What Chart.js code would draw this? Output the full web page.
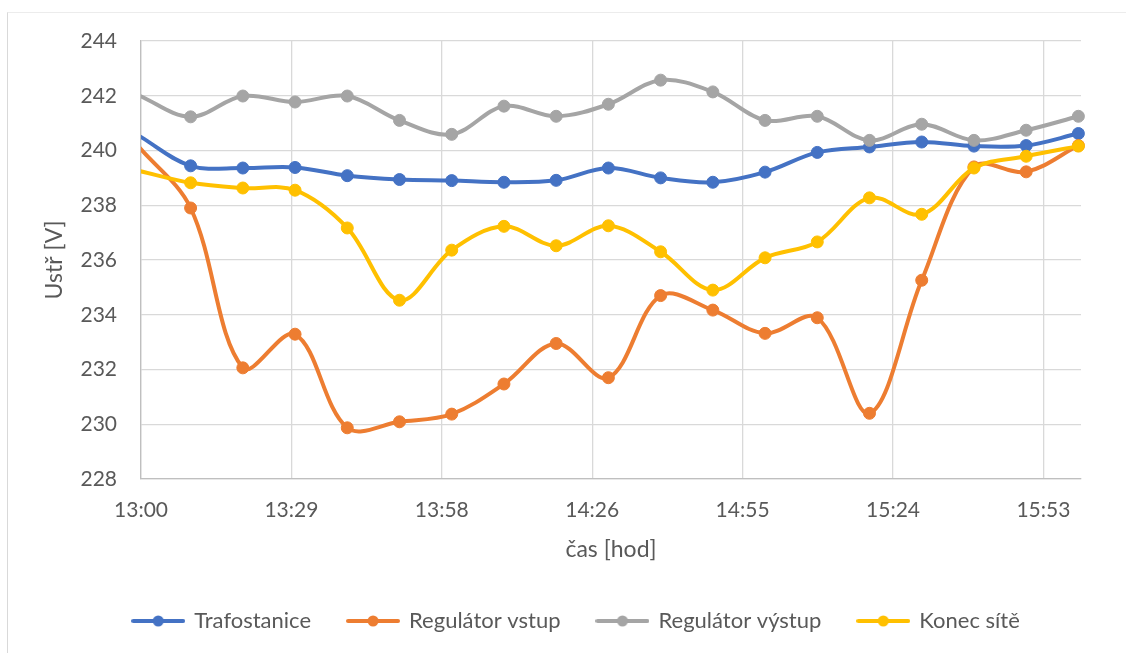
<!DOCTYPE html>
<html lang="cs">
<head>
<meta charset="utf-8">
<title>Napětí v síti</title>
<script src="https://cdn.jsdelivr.net/npm/chart.js@4/dist/chart.umd.min.js"></script>
<style>
  html, body { margin: 0; padding: 0; background: #ffffff; }
  #wrap { position: relative; width: 1126px; height: 653px; overflow: hidden; }
  #frame { position: absolute; left: 7px; top: 12px; width: 1200px; height: 700px;
           border-left: 1px solid #d9d9d9; border-top: 1px solid #ececec; }
  canvas { position: absolute; left: 0; top: 0; }
</style>
</head>
<body>
<div id="wrap">
  <div id="frame"></div>
  <canvas id="chart" width="1126" height="653"></canvas>
</div>
<script>
// measurement times (hh:mm:ss)
const times = ["12:59:30", "13:09:30", "13:19:30", "13:29:30", "13:39:30", "13:49:30", "13:59:30",
               "14:09:30", "14:19:30", "14:29:30", "14:39:30", "14:49:30", "14:59:30", "15:09:30",
               "15:19:30", "15:29:30", "15:39:30", "15:49:30", "15:59:30"];

// voltages [V]
const trafostanice = [240.55, 239.44, 239.36, 239.38, 239.08, 238.94, 238.90, 238.84, 238.91, 239.36,
                      239.00, 238.84, 239.21, 239.93, 240.13, 240.31, 240.16, 240.18, 240.62];
const regulatorVstup = [240.15, 237.90, 232.06, 233.29, 229.87, 230.09, 230.37, 231.47, 232.95, 231.70,
                        234.70, 234.17, 233.32, 233.89, 230.40, 235.26, 239.40, 239.22, 240.18];
const regulatorVystup = [242.02, 241.23, 241.99, 241.77, 241.99, 241.10, 240.59, 241.62, 241.25, 241.69,
                         242.57, 242.14, 241.10, 241.25, 240.37, 240.96, 240.37, 240.74, 241.25];
const konecSite = [239.26, 238.82, 238.63, 238.55, 237.17, 234.53, 236.36, 237.23, 236.52, 237.25,
                   236.30, 234.90, 236.08, 236.66, 238.27, 237.67, 239.36, 239.79, 240.16];

const seriesNames = ["Trafostanice", "Regulátor vstup", "Regulátor výstup", "Konec sítě"];

// time axis: 13:00 – 16:00, major unit 0.02 day (28.8 min)
const tickLabels = ["13:00", "13:29", "13:58", "14:26", "14:55", "15:24", "15:53"];
const axisStartMin = 13 * 60;
const axisSpanMin = 180;
const majorUnitMin = 28.8;

const colors = ["#4472C4", "#ED7D31", "#A5A5A5", "#FFC000"];
const textColor = "#595959";
const fontFamily = "Lato, 'Open Sans', 'DejaVu Sans', sans-serif";

function toMinutes(t) {
  const [h, m, s] = t.split(":").map(Number);
  return h * 60 + m + s / 60 - axisStartMin;
}

function legendGlyph(color) {
  const c = document.createElement("canvas");
  c.width = 54; c.height = 14;
  const g = c.getContext("2d");
  g.strokeStyle = color; g.lineWidth = 4; g.lineCap = "round";
  g.beginPath(); g.moveTo(2, 7); g.lineTo(52, 7); g.stroke();
  g.fillStyle = color;
  g.beginPath(); g.arc(27, 7, 5.5, 0, Math.PI * 2); g.fill();
  return c;
}

const seriesValues = [trafostanice, regulatorVstup, regulatorVystup, konecSite];

const datasets = seriesValues.map((vals, i) => ({
  label: seriesNames[i],
  data: times.map((t, j) => ({ x: toMinutes(t), y: vals[j] })),
  borderColor: colors[i],
  backgroundColor: colors[i],
  borderWidth: 4,
  pointBackgroundColor: colors[i],
  pointBorderColor: colors[i],
  pointBorderWidth: 1,
  pointRadius: ctx => (ctx.parsed && ctx.parsed.x < 0 ? 0 : 6),
  pointHoverRadius: 6,
  tension: 0.35,
  fill: false,
  order: seriesValues.length - i,
  clip: { left: 0, top: false, right: false, bottom: false }
}));

// shift the legend row so it sits centred under the whole figure
const legendShift = {
  id: "legendShift",
  afterLayout(chart) {
    if (chart.legend) { chart.legend.left += 36; chart.legend.right += 36; }
  }
};

new Chart(document.getElementById("chart"), {
  type: "line",
  data: { datasets },
  plugins: [legendShift],
  options: {
    responsive: false,
    animation: false,
    devicePixelRatio: 1,
    layout: { padding: { top: 41, right: 45, bottom: 11, left: 0 } },
    scales: {
      x: {
        type: "linear",
        min: 0,
        max: axisSpanMin,
        afterFit: s => { s.height = 94; },
        afterBuildTicks: s => { s.ticks = tickLabels.map((_, i) => ({ value: i * majorUnitMin })); },
        ticks: {
          callback: (v, i) => tickLabels[i],
          color: textColor,
          font: { family: fontFamily, size: 21 },
          padding: 19,
          maxRotation: 0,
          autoSkip: false
        },
        grid: { color: "#d9d9d9", lineWidth: 1.3, drawTicks: false },
        border: { color: "#bfbfbf", width: 1.3 },
        title: {
          display: true,
          text: "čas [hod]",
          color: textColor,
          font: { family: fontFamily, size: 23 },
          padding: { top: 0, bottom: 10 }
        }
      },
      y: {
        min: 228,
        max: 244,
        afterFit: s => { s.width = 141; },
        ticks: {
          stepSize: 2,
          color: textColor,
          font: { family: fontFamily, size: 21 },
          padding: 24
        },
        grid: { color: "#d9d9d9", lineWidth: 1.3, drawTicks: false },
        border: { color: "#bfbfbf", width: 1.3 },
        title: {
          display: true,
          text: "Ustř [V]",
          color: textColor,
          font: { family: fontFamily, size: 23 },
          padding: { top: 41, bottom: 0 }
        }
      }
    },
    plugins: {
      tooltip: { enabled: false },
      legend: {
        position: "bottom",
        labels: {
          usePointStyle: true,
          pointStyleWidth: 50,
          padding: 37,
          color: textColor,
          font: { family: fontFamily, size: 22 },
          generateLabels: chart => chart.data.datasets.map((ds, i) => ({
            text: ds.label,
            fillStyle: ds.borderColor,
            strokeStyle: ds.borderColor,
            lineWidth: 0,
            pointStyle: legendGlyph(ds.borderColor),
            fontColor: textColor,
            hidden: !chart.isDatasetVisible(i),
            datasetIndex: i
          }))
        }
      }
    }
  }
});
</script>
</body>
</html>
